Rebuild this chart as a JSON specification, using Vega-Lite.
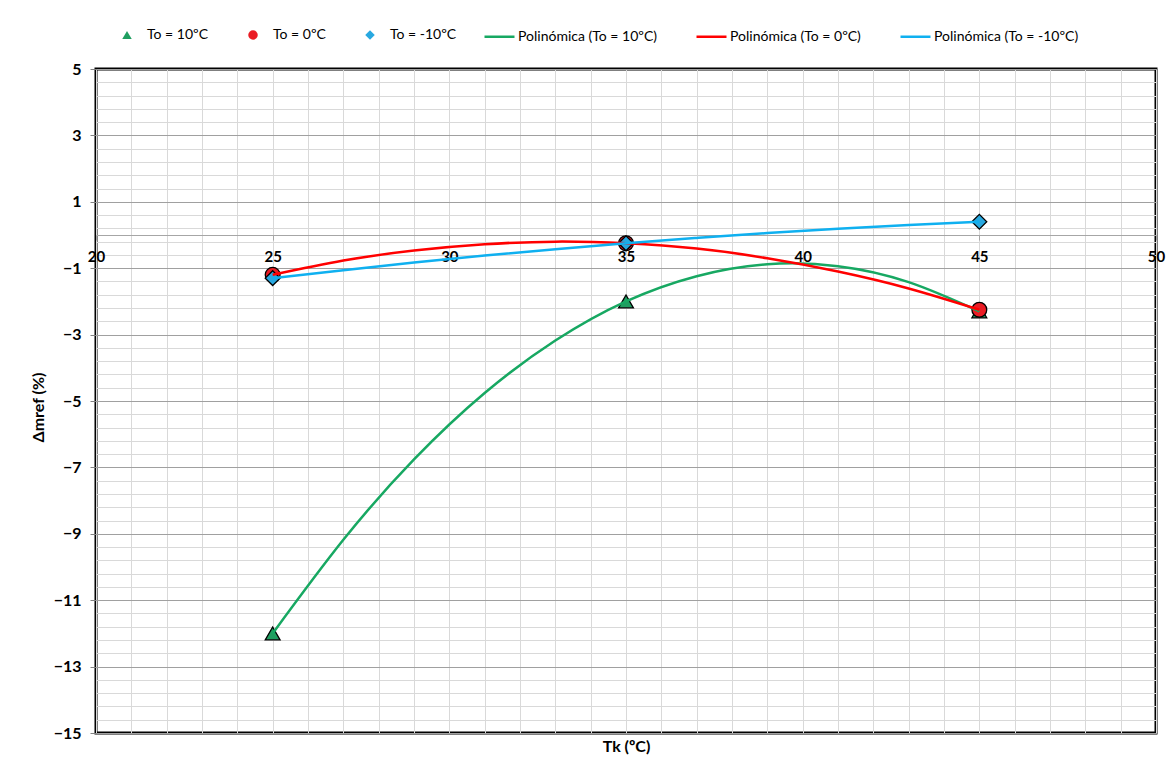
{
  "$schema": "https://vega.github.io/schema/vega-lite/v6.json",
  "width": 1060,
  "height": 664,
  "autosize": {"type": "none"},
  "padding": {"left": 96, "top": 69, "right": 14, "bottom": 40},
  "background": "white",
  "config": {"font": "Lato", "view": {"stroke": "black", "strokeWidth": 3}},
  "datasets": {
    "points": [
      {"to": "To = 10ºC", "tk": 25, "dm": -12},
      {"to": "To = 10ºC", "tk": 35, "dm": -2},
      {"to": "To = 10ºC", "tk": 45, "dm": -2.3},
      {"to": "To = 0ºC", "tk": 25, "dm": -1.2},
      {"to": "To = 0ºC", "tk": 35, "dm": -0.25},
      {"to": "To = 0ºC", "tk": 45, "dm": -2.25},
      {"to": "To = -10ºC", "tk": 25, "dm": -1.3},
      {"to": "To = -10ºC", "tk": 35, "dm": -0.25},
      {"to": "To = -10ºC", "tk": 45, "dm": 0.4}
    ],
    "curves": [
      {"fit": "Polinómica (To = 10ºC)", "tk": 25, "dm": -12},
      {"fit": "Polinómica (To = 10ºC)", "tk": 27, "dm": -9.18},
      {"fit": "Polinómica (To = 10ºC)", "tk": 29, "dm": -6.76},
      {"fit": "Polinómica (To = 10ºC)", "tk": 31, "dm": -4.76},
      {"fit": "Polinómica (To = 10ºC)", "tk": 33, "dm": -3.18},
      {"fit": "Polinómica (To = 10ºC)", "tk": 35, "dm": -2},
      {"fit": "Polinómica (To = 10ºC)", "tk": 37, "dm": -1.24},
      {"fit": "Polinómica (To = 10ºC)", "tk": 39, "dm": -0.88},
      {"fit": "Polinómica (To = 10ºC)", "tk": 41, "dm": -0.94},
      {"fit": "Polinómica (To = 10ºC)", "tk": 43, "dm": -1.42},
      {"fit": "Polinómica (To = 10ºC)", "tk": 45, "dm": -2.3},
      {"fit": "Polinómica (To = 0ºC)", "tk": 25, "dm": -1.2},
      {"fit": "Polinómica (To = 0ºC)", "tk": 27, "dm": -0.77},
      {"fit": "Polinómica (To = 0ºC)", "tk": 29, "dm": -0.47},
      {"fit": "Polinómica (To = 0ºC)", "tk": 31, "dm": -0.28},
      {"fit": "Polinómica (To = 0ºC)", "tk": 33, "dm": -0.2},
      {"fit": "Polinómica (To = 0ºC)", "tk": 35, "dm": -0.25},
      {"fit": "Polinómica (To = 0ºC)", "tk": 37, "dm": -0.41},
      {"fit": "Polinómica (To = 0ºC)", "tk": 39, "dm": -0.7},
      {"fit": "Polinómica (To = 0ºC)", "tk": 41, "dm": -1.1},
      {"fit": "Polinómica (To = 0ºC)", "tk": 43, "dm": -1.61},
      {"fit": "Polinómica (To = 0ºC)", "tk": 45, "dm": -2.25},
      {"fit": "Polinómica (To = -10ºC)", "tk": 25, "dm": -1.3},
      {"fit": "Polinómica (To = -10ºC)", "tk": 27, "dm": -1.06},
      {"fit": "Polinómica (To = -10ºC)", "tk": 29, "dm": -0.83},
      {"fit": "Polinómica (To = -10ºC)", "tk": 31, "dm": -0.62},
      {"fit": "Polinómica (To = -10ºC)", "tk": 33, "dm": -0.43},
      {"fit": "Polinómica (To = -10ºC)", "tk": 35, "dm": -0.25},
      {"fit": "Polinómica (To = -10ºC)", "tk": 37, "dm": -0.09},
      {"fit": "Polinómica (To = -10ºC)", "tk": 39, "dm": 0.06},
      {"fit": "Polinómica (To = -10ºC)", "tk": 41, "dm": 0.19},
      {"fit": "Polinómica (To = -10ºC)", "tk": 43, "dm": 0.3},
      {"fit": "Polinómica (To = -10ºC)", "tk": 45, "dm": 0.4}
    ]
  },
  "layer": [
    {
      "data": {"name": "points"},
      "mark": {"type": "point", "filled": true, "size": 220, "stroke": "black", "strokeWidth": 1.3, "opacity": 1},
      "encoding": {
        "x": {
          "field": "tk", "type": "quantitative",
          "scale": {"domain": [20, 50], "nice": false, "zero": false},
          "axis": {"orient": "bottom", "values": [20,21,22,23,24,25,26,27,28,29,30,31,32,33,34,35,36,37,38,39,40,41,42,43,44,45,46,47,48,49,50],
                   "grid": true, "gridColor": "#d9d9d9", "gridWidth": 1, "labels": false, "ticks": false, "domain": false, "title": null}
        },
        "y": {
          "field": "dm", "type": "quantitative",
          "scale": {"domain": [-15, 5], "nice": false, "zero": false},
          "axis": {"orient": "left", "values": [-15,-14.6,-14.2,-13.8,-13.4,-13,-12.6,-12.2,-11.8,-11.4,-11,-10.6,-10.2,-9.8,-9.4,-9,-8.6,-8.2,-7.8,-7.4,-7,-6.6,-6.2,-5.8,-5.4,-5,-4.6,-4.2,-3.8,-3.4,-3,-2.6,-2.2,-1.8,-1.4,-1,-0.6,-0.2,0.2,0.6,1,1.4,1.8,2.2,2.6,3,3.4,3.8,4.2,4.6,5],
                   "grid": true, "gridColor": "#d9d9d9", "gridWidth": 1, "labels": false, "ticks": false, "domain": false, "title": null}
        },
        "fill": {
          "field": "to", "type": "nominal",
          "scale": {"domain": ["To = 10ºC", "To = 0ºC", "To = -10ºC"], "range": ["#1f9e60", "#ea1c24", "#28a8e0"]},
          "legend": {
            "orient": "none", "legendX": 24, "legendY": -41, "direction": "horizontal", "title": null,
            "symbolSize": 90, "symbolStrokeColor": "black", "symbolStrokeWidth": 1,
            "labelFont": "Lato", "labelFontSize": 14, "labelColor": "black", "labelOffset": 13,
            "columnPadding": 37, "padding": 0,
            "encode": {"symbols": {"update": {"stroke": {"value": "black"}, "strokeWidth": {"value": 1}}}}
          }
        },
        "shape": {
          "field": "to", "type": "nominal",
          "scale": {"domain": ["To = 10ºC", "To = 0ºC", "To = -10ºC"], "range": ["triangle-up", "circle", "diamond"]},
          "legend": {
            "orient": "none", "legendX": 24, "legendY": -41, "direction": "horizontal", "title": null,
            "symbolSize": 90, "symbolStrokeColor": "black", "symbolStrokeWidth": 1,
            "labelFont": "Lato", "labelFontSize": 14, "labelColor": "black", "labelOffset": 13,
            "columnPadding": 37, "padding": 0,
            "encode": {"symbols": {"update": {"stroke": {"value": "black"}, "strokeWidth": {"value": 1}}}}
          }
        }
      }
    },
    {
      "data": {"name": "curves"},
      "mark": {"type": "line", "interpolate": "natural", "strokeWidth": 2.5},
      "encoding": {
        "x": {
          "field": "tk", "type": "quantitative",
          "axis": {"orient": "bottom", "offset": -498, "values": [20, 25, 30, 35, 40, 45, 50],
                   "grid": false, "domain": true, "domainColor": "#a6a6a6", "domainWidth": 1,
                   "ticks": true, "tickColor": "#a6a6a6", "tickSize": 5,
                   "labelFont": "Lato", "labelFontWeight": "bold", "labelFontSize": 15, "labelColor": "black", "labelPadding": 9,
                   "labelFlush": false, "labelOverlap": false, "labelBound": false,
                   "title": "Tk (ºC)", "titleFont": "Lato", "titleFontSize": 16, "titleFontWeight": "bold", "titleColor": "black",
                   "titleY": 511, "titleBaseline": "middle"}
        },
        "y": {
          "field": "dm", "type": "quantitative",
          "axis": {"orient": "left", "values": [-15, -13, -11, -9, -7, -5, -3, -1, 1, 3, 5],
                   "grid": true, "gridColor": "#a0a0a0", "gridWidth": 1, "domain": false,
                   "ticks": true, "tickColor": "#808080", "tickSize": 6,
                   "labelFont": "Lato", "labelFontWeight": "bold", "labelFontSize": 16, "labelColor": "black", "labelPadding": 9,
                   "title": "Δmref (%)", "titleFont": "Lato", "titleFontSize": 16, "titleFontWeight": "bold", "titleColor": "black",
                   "titleX": -58, "titleY": 338, "titleAngle": -90, "titleAlign": "center", "titleBaseline": "middle"}
        },
        "stroke": {
          "field": "fit", "type": "nominal",
          "scale": {"domain": ["Polinómica (To = 10ºC)", "Polinómica (To = 0ºC)", "Polinómica (To = -10ºC)"], "range": ["#17a862", "#ff0000", "#0fb0f0"]},
          "legend": {
            "orient": "none", "legendX": 387, "legendY": -49, "direction": "horizontal", "title": null,
            "symbolType": "stroke", "symbolSize": 900, "symbolStrokeWidth": 2.5,
            "labelFont": "Lato", "labelFontSize": 14, "labelColor": "black", "labelOffset": 2,
            "columnPadding": 34, "padding": 0
          }
        }
      }
    }
  ],
  "resolve": {"axis": {"x": "independent", "y": "independent"}}
}
